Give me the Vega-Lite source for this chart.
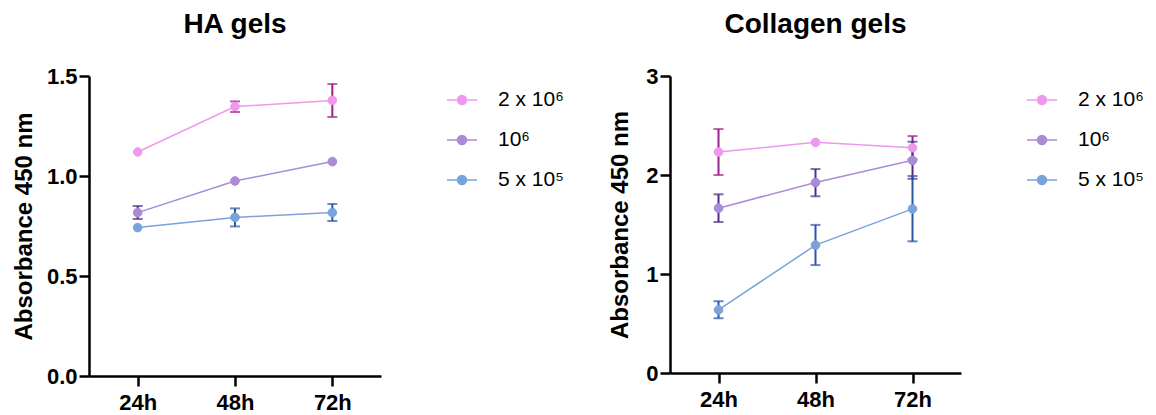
{
  "$schema": "https://vega.github.io/schema/vega-lite/v6.json",
  "padding": {"left": 12, "top": 11, "right": 5, "bottom": 0},
  "background": "white",
  "datasets": {
    "ha": [
      {"group": "2 x 10⁶", "time": "24h", "mean": 1.12, "lo": null, "hi": null},
      {"group": "2 x 10⁶", "time": "48h", "mean": 1.347, "lo": 1.32, "hi": 1.373},
      {"group": "2 x 10⁶", "time": "72h", "mean": 1.378, "lo": 1.295, "hi": 1.46},
      {"group": "10⁶", "time": "24h", "mean": 0.817, "lo": 0.785, "hi": 0.85},
      {"group": "10⁶", "time": "48h", "mean": 0.975, "lo": null, "hi": null},
      {"group": "10⁶", "time": "72h", "mean": 1.072, "lo": null, "hi": null},
      {"group": "5 x 10⁵", "time": "24h", "mean": 0.742, "lo": null, "hi": null},
      {"group": "5 x 10⁵", "time": "48h", "mean": 0.793, "lo": 0.748, "hi": 0.838},
      {"group": "5 x 10⁵", "time": "72h", "mean": 0.817, "lo": 0.775, "hi": 0.86}
    ],
    "col": [
      {"group": "2 x 10⁶", "time": "24h", "mean": 2.232, "lo": 2.0, "hi": 2.464},
      {"group": "2 x 10⁶", "time": "48h", "mean": 2.33, "lo": null, "hi": null},
      {"group": "2 x 10⁶", "time": "72h", "mean": 2.275, "lo": 2.157, "hi": 2.393},
      {"group": "10⁶", "time": "24h", "mean": 1.665, "lo": 1.525, "hi": 1.805},
      {"group": "10⁶", "time": "48h", "mean": 1.924, "lo": 1.785, "hi": 2.06},
      {"group": "10⁶", "time": "72h", "mean": 2.148, "lo": 1.962, "hi": 2.336},
      {"group": "5 x 10⁵", "time": "24h", "mean": 0.637, "lo": 0.553, "hi": 0.725},
      {"group": "5 x 10⁵", "time": "48h", "mean": 1.292, "lo": 1.09, "hi": 1.496},
      {"group": "5 x 10⁵", "time": "72h", "mean": 1.658, "lo": 1.33, "hi": 1.99}
    ]
  },
  "config": {
    "font": "Liberation Sans",
    "view": {"stroke": null},
    "concat": {"spacing": 36},
    "axis": {
      "grid": false,
      "domainColor": "black",
      "domainWidth": 2.5,
      "tickColor": "black",
      "tickWidth": 2.5,
      "tickSize": 10,
      "labelFont": "Liberation Sans",
      "labelFontWeight": "bold",
      "labelFontSize": 22,
      "labelColor": "black",
      "titleFont": "Liberation Sans",
      "titleFontWeight": "bold",
      "titleFontSize": 24,
      "titleColor": "black"
    },
    "legend": {
      "labelFont": "Liberation Sans",
      "labelFontSize": 21,
      "labelColor": "black",
      "padding": 8,
      "offset": 57,
      "rowPadding": 14,
      "labelOffset": 20,
      "symbolSize": 900,
      "symbolStrokeWidth": 1.5,
      "symbolType": "M-1,0L1,0M-0.3,0A0.3,0.3,0,1,1,0.3,0A0.3,0.3,0,1,1,-0.3,0Z"
    },
    "title": {"font": "Liberation Sans", "fontSize": 28, "fontWeight": "bold", "color": "black", "anchor": "middle", "frame": "group", "offset": 26}
  },
  "resolve": {
    "scale": {"fill": "independent", "stroke": "independent", "color": "independent", "y": "independent", "x": "independent"},
    "legend": {"fill": "independent", "stroke": "independent"}
  },
  "hconcat": [
    {
      "title": "HA gels",
      "width": 292,
      "height": 300,
      "data": {"name": "ha"},
      "encoding": {
        "x": {"field": "time", "type": "ordinal", "scale": {"type": "point", "padding": 0.5}, "axis": {"title": null, "labelAngle": 0, "labelPadding": 6}}
      },
      "layer": [
        {
          "mark": {"type": "rule", "strokeWidth": 2},
          "encoding": {
            "y": {"field": "lo", "type": "quantitative", "title": "Absorbance 450 nm", "scale": {"domain": [0, 1.5], "nice": false}, "axis": {"values": [0, 0.5, 1, 1.5], "format": ".1f", "labelPadding": 2, "titlePadding": 10}},
            "y2": {"field": "hi"},
            "color": {"field": "group", "type": "nominal", "scale": {"domain": ["2 x 10⁶", "10⁶", "5 x 10⁵"], "range": ["#9C1F8E", "#4E2F87", "#2A55A5"]}, "legend": null}
          }
        },
        {
          "mark": {"type": "tick", "thickness": 2, "size": 10},
          "encoding": {
            "y": {"field": "lo", "type": "quantitative", "title": "Absorbance 450 nm"},
            "color": {"field": "group", "type": "nominal", "scale": {"domain": ["2 x 10⁶", "10⁶", "5 x 10⁵"], "range": ["#9C1F8E", "#4E2F87", "#2A55A5"]}, "legend": null}
          }
        },
        {
          "mark": {"type": "tick", "thickness": 2, "size": 10},
          "encoding": {
            "y": {"field": "hi", "type": "quantitative", "title": "Absorbance 450 nm"},
            "color": {"field": "group", "type": "nominal", "scale": {"domain": ["2 x 10⁶", "10⁶", "5 x 10⁵"], "range": ["#9C1F8E", "#4E2F87", "#2A55A5"]}, "legend": null}
          }
        },
        {
          "mark": {"type": "line", "strokeWidth": 1.5},
          "encoding": {
            "y": {"field": "mean", "type": "quantitative", "title": "Absorbance 450 nm"},
            "color": {"field": "group", "type": "nominal", "scale": {"domain": ["2 x 10⁶", "10⁶", "5 x 10⁵"], "range": ["#EE99EE", "#A98BD6", "#7BA3DB"]}, "legend": null}
          }
        },
        {
          "mark": {"type": "point", "filled": true, "size": 75, "strokeWidth": 1, "opacity": 1},
          "encoding": {
            "y": {"field": "mean", "type": "quantitative", "title": "Absorbance 450 nm"},
            "fill": {"field": "group", "type": "nominal", "title": null, "scale": {"domain": ["2 x 10⁶", "10⁶", "5 x 10⁵"], "range": ["#EE99EE", "#A98BD6", "#7BA3DB"]}},
            "stroke": {"field": "group", "type": "nominal", "title": null, "scale": {"domain": ["2 x 10⁶", "10⁶", "5 x 10⁵"], "range": ["#EE99EE", "#A98BD6", "#7BA3DB"]}}
          }
        }
      ],
      "resolve": {"scale": {"color": "independent"}}
    },
    {
      "title": "Collagen gels",
      "width": 291,
      "height": 297,
      "data": {"name": "col"},
      "encoding": {
        "x": {"field": "time", "type": "ordinal", "scale": {"type": "point", "padding": 0.5}, "axis": {"title": null, "labelAngle": 0, "labelPadding": 6}}
      },
      "layer": [
        {
          "mark": {"type": "rule", "strokeWidth": 2},
          "encoding": {
            "y": {"field": "lo", "type": "quantitative", "title": "Absorbance 450 nm", "scale": {"domain": [0, 3], "nice": false}, "axis": {"values": [0, 1, 2, 3], "format": "d", "labelPadding": 2, "titlePadding": 13}},
            "y2": {"field": "hi"},
            "color": {"field": "group", "type": "nominal", "scale": {"domain": ["2 x 10⁶", "10⁶", "5 x 10⁵"], "range": ["#9C1F8E", "#4E2F87", "#2A55A5"]}, "legend": null}
          }
        },
        {
          "mark": {"type": "tick", "thickness": 2, "size": 10},
          "encoding": {
            "y": {"field": "lo", "type": "quantitative", "title": "Absorbance 450 nm"},
            "color": {"field": "group", "type": "nominal", "scale": {"domain": ["2 x 10⁶", "10⁶", "5 x 10⁵"], "range": ["#9C1F8E", "#4E2F87", "#2A55A5"]}, "legend": null}
          }
        },
        {
          "mark": {"type": "tick", "thickness": 2, "size": 10},
          "encoding": {
            "y": {"field": "hi", "type": "quantitative", "title": "Absorbance 450 nm"},
            "color": {"field": "group", "type": "nominal", "scale": {"domain": ["2 x 10⁶", "10⁶", "5 x 10⁵"], "range": ["#9C1F8E", "#4E2F87", "#2A55A5"]}, "legend": null}
          }
        },
        {
          "mark": {"type": "line", "strokeWidth": 1.5},
          "encoding": {
            "y": {"field": "mean", "type": "quantitative", "title": "Absorbance 450 nm"},
            "color": {"field": "group", "type": "nominal", "scale": {"domain": ["2 x 10⁶", "10⁶", "5 x 10⁵"], "range": ["#EE99EE", "#A98BD6", "#7BA3DB"]}, "legend": null}
          }
        },
        {
          "mark": {"type": "point", "filled": true, "size": 75, "strokeWidth": 1, "opacity": 1},
          "encoding": {
            "y": {"field": "mean", "type": "quantitative", "title": "Absorbance 450 nm"},
            "fill": {"field": "group", "type": "nominal", "title": null, "scale": {"domain": ["2 x 10⁶", "10⁶", "5 x 10⁵"], "range": ["#EE99EE", "#A98BD6", "#7BA3DB"]}},
            "stroke": {"field": "group", "type": "nominal", "title": null, "scale": {"domain": ["2 x 10⁶", "10⁶", "5 x 10⁵"], "range": ["#EE99EE", "#A98BD6", "#7BA3DB"]}}
          }
        }
      ],
      "resolve": {"scale": {"color": "independent"}}
    }
  ]
}
